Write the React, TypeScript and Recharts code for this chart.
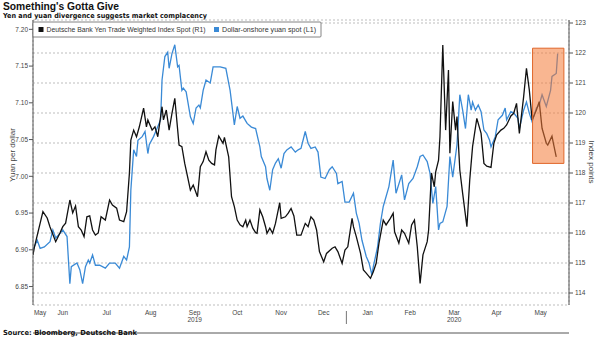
import React from 'react';
import { LineChart, Line, XAxis, YAxis, CartesianGrid, ReferenceArea } from 'recharts';

// x values: days counted from 1 May 2019
const yenDay = [24,25,31,34,36,40,43,45,47,50,52,54,56,58,60,62,64,66,68,70,72,75,78,80,83,85,88,90,92,93,95,97,99,102,104,105,108,110,112,115,116,118,120,122,124,127,129,131,133,135,137,140,142,144,146,148,150,152,153,155,158,159,162,164,166,168,170,172,174,175,177,179,181,182,184,186,188,189,191,193,195,198,199,202,204,206,208,210,213,216,218,220,222,224,226,229,231,235,237,239,242,244,246,249,250,252,255,257,259,262,264,266,268,271,273,276,278,279,282,284,286,289,291,293,295,297,299,302,303,305,307,308,310,311,313,315,317,318,320,322,323,325,327,330,332,334,337,340,342,344,347,349,351,354,356,358,361,363,365,367,370,372,374,376,379,381,383,386,387,390,391,393];
const yenIndex = [115.27,115.53,116.71,116.5,116.2,115.71,116.0,116.21,116.33,117.1,116.67,116.9,116.21,116.1,115.88,116.54,116.57,116.1,115.93,116.0,116.54,116.43,117.1,116.93,116.83,116.43,116.38,116.71,118.0,119.1,119.43,119.21,119.54,120.16,119.54,119.77,119.43,119.54,119.21,120.21,119.77,120.1,119.43,119.99,120.49,118.93,118.88,118.32,117.88,117.43,117.6,117.21,118.21,118.38,118.71,118.43,118.32,118.27,118.77,119.23,118.99,119.19,118.54,117.21,116.88,116.43,116.27,116.21,116.43,116.21,116.43,116.16,116.01,115.99,116.77,116.54,116.21,115.99,116.16,115.99,116.32,117.01,116.49,116.54,116.66,116.82,116.57,115.93,115.93,116.32,116.21,116.54,116.43,116.1,115.38,115.04,115.32,115.49,115.54,115.38,114.99,115.43,115.54,116.49,116.21,115.88,115.32,114.77,114.66,114.49,114.71,114.99,115.66,116.43,116.27,116.49,116.66,116.04,115.66,116.1,115.99,115.66,116.27,116.43,115.54,114.32,115.27,115.71,116.1,118.0,117.54,118.04,118.43,119.21,122.27,119.43,121.43,118.66,120.38,119.43,119.88,118.1,117.32,116.21,117.77,118.88,119.82,119.32,118.32,118.23,118.19,118.99,119.27,119.43,119.49,119.6,119.9,119.99,120.32,119.32,120.54,121.49,120.77,119.77,120.1,120.38,119.49,118.99,118.93,119.23,118.99,118.54];

const yuanDay = [24,27,29,32,36,38,40,43,45,48,49,50,51,55,57,59,61,63,64,66,68,71,75,78,82,85,88,90,92,93,95,97,98,101,103,105,106,109,111,114,115,117,119,120,122,124,126,127,129,130,132,135,137,139,141,142,144,146,149,151,156,160,163,166,168,170,172,175,178,181,184,185,188,189,191,193,195,197,199,201,203,206,209,211,213,216,218,220,223,225,227,230,233,235,238,239,242,244,247,250,252,254,256,259,261,263,264,267,269,271,275,278,280,284,286,289,292,295,297,299,302,304,306,308,310,311,313,316,318,320,323,325,327,329,331,333,334,336,338,340,342,344,346,347,350,352,355,357,358,361,363,366,367,370,372,374,376,379,381,383,386,389,390,393,394];
const yuanSpot = [6.900,6.913,6.902,6.904,6.911,6.927,6.916,6.922,6.927,6.918,6.886,6.854,6.877,6.882,6.873,6.854,6.877,6.886,6.882,6.893,6.879,6.879,6.875,6.882,6.882,6.875,6.891,6.886,6.904,6.981,7.036,7.027,7.049,7.054,7.061,7.031,7.043,7.054,7.063,7.077,7.131,7.163,7.169,7.147,7.167,7.179,7.149,7.151,7.117,7.120,7.115,7.081,7.072,7.093,7.097,7.093,7.117,7.131,7.127,7.149,7.149,7.147,7.117,7.070,7.095,7.079,7.082,7.072,7.067,7.065,7.040,7.027,7.013,6.997,6.981,7.009,7.018,7.024,7.011,7.031,7.036,7.040,7.033,7.036,7.038,7.061,7.045,7.038,7.040,7.033,6.999,6.997,7.009,7.013,7.004,6.990,6.993,6.965,6.965,6.977,6.950,6.936,6.913,6.891,6.882,6.866,6.877,6.904,6.936,6.959,6.986,7.022,6.977,7.002,6.968,6.990,6.997,7.013,7.027,7.029,7.020,7.004,6.963,6.986,6.927,6.936,6.938,6.959,7.027,6.999,7.043,7.111,7.090,7.065,7.111,7.090,7.101,7.090,7.097,7.088,7.063,7.058,7.049,7.040,7.054,7.077,7.083,7.093,7.077,7.088,7.086,7.079,7.065,7.090,7.101,7.086,7.074,7.093,7.097,7.111,7.095,7.117,7.136,7.140,7.167];

const monthStartDays = [31, 61, 92, 123, 153, 184, 214, 245, 276, 305, 336, 366, 397];
const monthLabelDays = [29, 45, 76, 107, 138, 168, 199, 229, 260, 290, 321, 351, 382];
const monthLabels = ['May', 'Jun', 'Jul', 'Aug', 'Sep', 'Oct', 'Nov', 'Dec', 'Jan', 'Feb', 'Mar', 'Apr', 'May'];
const yearLabels = ['', '', '', '', '2019', '', '', '', '', '', '2020', '', ''];
const yearBreakDay = 245;
const yuanTicks = [6.85, 6.9, 6.95, 7.0, 7.05, 7.1, 7.15, 7.2];
const yenTicks = [114, 115, 116, 117, 118, 119, 120, 121, 122, 123];
const highlightDays = [376.3, 398.4];
const highlightIndex = [118.32, 122.16];

const xDomain = [24, 402];
const yuanDomain = [6.8249, 7.2127];
const yenDomain = [113.6, 123.1];

const labelAxisTicks = [...monthLabelDays, yearBreakDay].sort((a, b) => a - b);

const yenData = yenDay.map((d, i) => ({ day: d, v: yenIndex[i] }));
const yuanData = yuanDay.map((d, i) => ({ day: d, v: yuanSpot[i] }));

const FONT = "'Liberation Sans', Arial, sans-serif";
const BOLD = "'DejaVu Sans', Verdana, sans-serif";

const MonthTick = (props: any) => {
  const { x, y, payload } = props;
  const value = payload ? payload.value : null;
  if (value === yearBreakDay) {
    return <line x1={x} x2={x} y1={y + 6} y2={y + 19} stroke="#777" strokeWidth={1} />;
  }
  const i = monthLabelDays.indexOf(value);
  if (i < 0) return <g />;
  return (
    <g>
      <text x={x} y={y} dy={9.5} textAnchor="middle" fontSize={6.5} fill="#444" fontFamily={FONT}>
        {monthLabels[i]}
      </text>
      {yearLabels[i] ? (
        <text x={x} y={y} dy={16.8} textAnchor="middle" fontSize={6.5} fill="#444" fontFamily={FONT}>
          {yearLabels[i]}
        </text>
      ) : null}
    </g>
  );
};

export default function App() {
  return (
    <div style={{ position: 'absolute', left: 0, top: 0, width: 601, height: 339, background: '#fff', overflow: 'hidden' }}>
      <LineChart width={601} height={339} margin={{ top: 20, right: 0, bottom: 0, left: 0 }}>
        <CartesianGrid xAxisId="m" yAxisId="r" stroke="#bdbdbd" strokeDasharray="2 2" />
        <XAxis
          xAxisId="m"
          dataKey="day"
          type="number"
          domain={xDomain}
          allowDataOverflow
          ticks={monthStartDays}
          interval={0}
          height={6}
          tickSize={4}
          tickMargin={2}
          stroke="#555"
          tick={false}
        />
        <XAxis
          xAxisId="l"
          dataKey="day"
          type="number"
          domain={xDomain}
          allowDataOverflow
          ticks={labelAxisTicks}
          interval={0}
          height={28}
          axisLine={false}
          tickLine={false}
          tickSize={0}
          tickMargin={0}
          tick={<MonthTick />}
        />
        <YAxis
          yAxisId="l"
          orientation="left"
          type="number"
          domain={yuanDomain}
          allowDataOverflow
          ticks={yuanTicks}
          interval={0}
          width={33}
          tickSize={4}
          tickMargin={1}
          stroke="#555"
          tick={{ fontSize: 6.5, fill: '#444', fontFamily: FONT }}
          tickFormatter={(v: number) => v.toFixed(2)}
        />
        <YAxis
          yAxisId="r"
          orientation="right"
          type="number"
          domain={yenDomain}
          allowDataOverflow
          ticks={yenTicks}
          interval={0}
          width={32}
          tickSize={4}
          tickMargin={2}
          stroke="#555"
          tick={{ fontSize: 6.5, fill: '#444', fontFamily: FONT, textAnchor: 'start' }}
        />
        <Line
          data={yuanData}
          dataKey="v"
          xAxisId="m"
          yAxisId="l"
          type="linear"
          stroke="#3a8ad6"
          strokeWidth={1.3}
          dot={false}
          isAnimationActive={false}
        />
        <Line
          data={yenData}
          dataKey="v"
          xAxisId="m"
          yAxisId="r"
          type="linear"
          stroke="#111"
          strokeWidth={1.3}
          dot={false}
          isAnimationActive={false}
        />
        <ReferenceArea
          xAxisId="m"
          yAxisId="r"
          x1={highlightDays[0]}
          x2={highlightDays[1]}
          y1={highlightIndex[0]}
          y2={highlightIndex[1]}
          fill="#f47a36"
          fillOpacity={0.55}
          stroke="#e0662a"
          strokeWidth={1}
          ifOverflow="visible"
          zIndex={450}
        />
      </LineChart>
      <svg width={601} height={339} style={{ position: 'absolute', left: 0, top: 0, pointerEvents: 'none' }}>
        <text x={3} y={10} fontSize={11} fontWeight="bold" fill="#111" fontFamily={FONT} textLength={116} lengthAdjust="spacingAndGlyphs">Something's Gotta Give</text>
        <text x={3} y={17.5} fontSize={7} fontWeight="bold" fill="#111" fontFamily={BOLD} textLength={204} lengthAdjust="spacingAndGlyphs">Yen and yuan divergence suggests market complacency</text>
        <rect x={33} y={22} width={288} height={15} fill="#fff" stroke="#666" strokeWidth={0.8} rx={1} />
        <rect x={38.5} y={27} width={5} height={5} fill="#111" />
        <text x={46.5} y={32.3} fontSize={6.8} fill="#333" fontFamily={FONT} textLength={159} lengthAdjust="spacingAndGlyphs">Deutsche Bank Yen Trade Weighted Index Spot (R1)</text>
        <rect x={214} y={27} width={5} height={5} fill="#3a8ad6" />
        <text x={222} y={32.3} fontSize={6.8} fill="#333" fontFamily={FONT} textLength={94} lengthAdjust="spacingAndGlyphs">Dollar-onshore yuan spot (L1)</text>
        <text transform="translate(15,155) rotate(-90)" textAnchor="middle" fontSize={8} fill="#444" fontFamily={FONT}>Yuan per dollar</text>
        <text transform="translate(589,162) rotate(90)" textAnchor="middle" fontSize={8} fill="#444" fontFamily={FONT}>Index points</text>
        <text x={3} y={335} fontSize={7} fontWeight="bold" fill="#111" fontFamily={BOLD} textLength={134} lengthAdjust="spacingAndGlyphs">Source: Bloomberg, Deutsche Bank</text>
      </svg>
    </div>
  );
}
